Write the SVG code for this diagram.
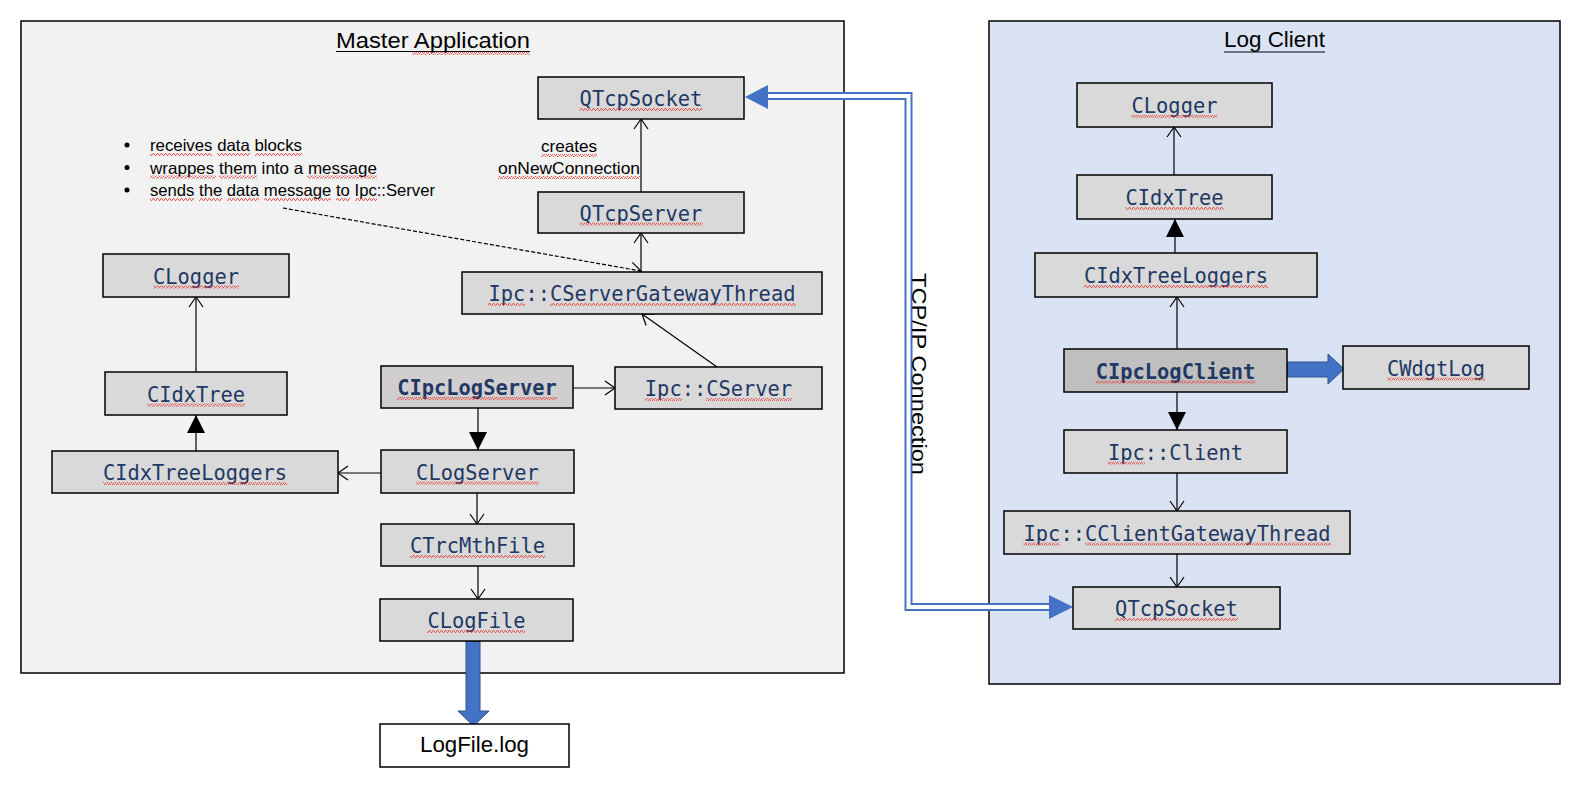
<svg xmlns="http://www.w3.org/2000/svg" width="1583" height="788" viewBox="0 0 1583 788">
<style>
.frame{stroke:#000;stroke-width:1.5}
.box{fill:#D9D9D9;stroke:#000;stroke-width:1.5}
.lbl{font-family:"DejaVu Sans Mono","Liberation Mono",monospace;font-size:20.4px;fill:#1F3864;text-anchor:middle}
.b{font-weight:bold}
.txt{font-family:"Liberation Sans",Arial,sans-serif;fill:#000}
.ln{stroke:#000;stroke-width:1.2;fill:none}
.sq{fill:url(#sq);stroke:none}
.blk{fill:#4472C4;stroke:#2F528F;stroke-width:1}
.tcpo{fill:none;stroke:#4472C4;stroke-width:8}
.tcpi{fill:none;stroke:#fff;stroke-width:4}
</style>
<defs>
<pattern id="sq" width="4" height="3" patternUnits="userSpaceOnUse">
<path d="M0,2.5 L1,0.5 L2,0.5 L3,2.5 L4,2.5" fill="none" stroke="#E53935" stroke-width="0.8"/>
</pattern>
<marker id="open" markerUnits="userSpaceOnUse" markerWidth="14" markerHeight="18" viewBox="-2 -9 14 18" refX="10" refY="0" orient="auto">
<path d="M0,-7 L10,0 L0,7" fill="none" stroke="#000" stroke-width="1.2"/>
</marker>
<marker id="tri" markerUnits="userSpaceOnUse" markerWidth="20" markerHeight="20" viewBox="0 -10 20 20" refX="18" refY="0" orient="auto">
<path d="M0,-9 L18,0 L0,9 Z" fill="#000"/>
</marker>
</defs>
<rect width="1583" height="788" fill="#fff"/>

<g id="master-application">
<rect class="frame" x="21" y="21" width="823" height="652" fill="#F2F2F2"/>
<text class="txt" x="336" y="48" font-size="22" textLength="194" lengthAdjust="spacingAndGlyphs">Master Application</text>
<line x1="336" y1="51.5" x2="530" y2="51.5" stroke="#000" stroke-width="1.2"/>
<rect class="sq" x="412" y="52" width="118" height="3"/>
</g>

<g id="log-client">
<rect class="frame" x="989" y="21" width="571" height="663" fill="#DAE3F3"/>
<text class="txt" x="1224" y="47" font-size="22" textLength="101" lengthAdjust="spacingAndGlyphs">Log Client</text>
<line x1="1224" y1="52" x2="1325" y2="52" stroke="#000" stroke-width="1.2"/>
</g>

<g id="note">
<circle cx="127" cy="145" r="2.5" fill="#000"/>
<circle cx="127" cy="167.5" r="2.5" fill="#000"/>
<circle cx="127" cy="190" r="2.5" fill="#000"/>
<text class="txt" x="150" y="151" font-size="16.5" textLength="152" lengthAdjust="spacingAndGlyphs">receives data blocks</text>
<text class="txt" x="150" y="173.5" font-size="16.5" textLength="227" lengthAdjust="spacingAndGlyphs">wrappes them into a message</text>
<text class="txt" x="150" y="196" font-size="16.5" textLength="285" lengthAdjust="spacingAndGlyphs">sends the data message to Ipc::Server</text>
<rect class="sq" x="150" y="153" width="62" height="3"/>
<rect class="sq" x="217" y="153" width="33" height="3"/>
<rect class="sq" x="255" y="153" width="47" height="3"/>
<rect class="sq" x="150" y="175.5" width="66" height="3"/>
<rect class="sq" x="219" y="175.5" width="38" height="3"/>
<rect class="sq" x="307" y="175.5" width="70" height="3"/>
<rect class="sq" x="150" y="198" width="44" height="3"/>
<rect class="sq" x="199" y="198" width="23" height="3"/>
<rect class="sq" x="227" y="198" width="32" height="3"/>
<rect class="sq" x="264" y="198" width="67" height="3"/>
<rect class="sq" x="336" y="198" width="14" height="3"/>
<rect class="sq" x="355" y="198" width="22" height="3"/>
</g>

<g id="label-creates">
<text class="txt" x="541" y="152" font-size="17" textLength="56" lengthAdjust="spacingAndGlyphs">creates</text>
<text class="txt" x="498" y="174" font-size="17" textLength="142" lengthAdjust="spacingAndGlyphs">onNewConnection</text>
<rect class="sq" x="541" y="154" width="56" height="3"/>
<rect class="sq" x="498" y="176" width="142" height="3"/>
</g>

<g id="connectors">
<line class="ln" x1="641" y1="192" x2="641" y2="119" marker-end="url(#open)"/>
<line class="ln" x1="641" y1="272" x2="641" y2="233" marker-end="url(#open)"/>
<line class="ln" x1="283" y1="208" x2="641" y2="271" stroke-dasharray="4 2" marker-end="url(#open)"/>
<line class="ln" x1="196" y1="372" x2="196" y2="297" marker-end="url(#open)"/>
<line class="ln" x1="196" y1="451" x2="196" y2="415" marker-end="url(#tri)"/>
<line class="ln" x1="381" y1="473" x2="338" y2="473" marker-end="url(#open)"/>
<line class="ln" x1="573" y1="388" x2="615" y2="388" marker-end="url(#open)"/>
<line class="ln" x1="717" y1="367" x2="642" y2="314" marker-end="url(#open)"/>
<line class="ln" x1="478" y1="408" x2="478" y2="450" marker-end="url(#tri)"/>
<line class="ln" x1="477" y1="493" x2="477" y2="524" marker-end="url(#open)"/>
<line class="ln" x1="478" y1="566" x2="478" y2="599" marker-end="url(#open)"/>
<line class="ln" x1="1174" y1="175" x2="1174" y2="127" marker-end="url(#open)"/>
<line class="ln" x1="1175" y1="253" x2="1175" y2="219" marker-end="url(#tri)"/>
<line class="ln" x1="1177" y1="349" x2="1177" y2="297" marker-end="url(#open)"/>
<line class="ln" x1="1177" y1="392" x2="1177" y2="430" marker-end="url(#tri)"/>
<line class="ln" x1="1177" y1="473" x2="1177" y2="511" marker-end="url(#open)"/>
<line class="ln" x1="1177" y1="554" x2="1177" y2="587" marker-end="url(#open)"/>
<polygon class="blk" points="466,641 480,641 480,711 489,711 473.5,726 458,711 466,711"/>
<polygon class="blk" points="1287,362 1328,362 1328,354 1344,369 1328,384 1328,377 1287,377"/>
<path class="tcpo" d="M768,96 H908.5 V607 H1049"/>
<path class="tcpi" d="M766,96 H908.5 V607 H1051"/>
<polygon points="745,97 768,85 768,109" fill="#4472C4"/>
<polygon points="1073,607 1049,595 1049,619" fill="#4472C4"/>
<text class="txt" transform="translate(912,273) rotate(90)" font-size="20" textLength="202" lengthAdjust="spacingAndGlyphs">TCP/IP Connection</text>
</g>

<g id="m-qtcpsocket"><rect class="box" x="538" y="77" width="206" height="42"/><text class="lbl" x="641" y="106">QTcpSocket</text><rect class="sq" x="579.5" y="108" width="123" height="3"/></g>
<g id="m-qtcpserver"><rect class="box" x="538" y="192" width="206" height="41"/><text class="lbl" x="641" y="220.5">QTcpServer</text><rect class="sq" x="579.5" y="222.5" width="123" height="3"/></g>
<g id="m-gateway"><rect class="box" x="462" y="272" width="360" height="42"/><text class="lbl" x="642" y="301">Ipc::CServerGatewayThread</text><rect class="sq" x="488" y="303" width="37" height="3"/><rect class="sq" x="550" y="303" width="246" height="3"/></g>
<g id="m-clogger"><rect class="box" x="103" y="254" width="186" height="43"/><text class="lbl" x="196" y="283.5">CLogger</text><rect class="sq" x="153" y="285.5" width="86" height="3"/></g>
<g id="m-cidxtree"><rect class="box" x="105" y="372" width="182" height="43"/><text class="lbl" x="196" y="401.5">CIdxTree</text><rect class="sq" x="147" y="403.5" width="98" height="3"/></g>
<g id="m-cidxtreeloggers"><rect class="box" x="52" y="451" width="286" height="42"/><text class="lbl" x="195" y="480">CIdxTreeLoggers</text><rect class="sq" x="103" y="482" width="184" height="3"/></g>
<g id="m-cipclogserver"><rect class="box" x="381" y="366" width="192" height="42" style="fill:#D0CECE"/><text class="lbl b" x="477" y="395">CIpcLogServer</text><rect class="sq" x="397" y="397" width="160" height="3"/></g>
<g id="m-ipccserver"><rect class="box" x="615" y="367" width="207" height="42"/><text class="lbl" x="718.5" y="396">Ipc::CServer</text><rect class="sq" x="645" y="398" width="37" height="3"/><rect class="sq" x="706" y="398" width="86" height="3"/></g>
<g id="m-clogserver"><rect class="box" x="381" y="450" width="193" height="43"/><text class="lbl" x="477.5" y="479.5">CLogServer</text><rect class="sq" x="416" y="481.5" width="123" height="3"/></g>
<g id="m-ctrcmthfile"><rect class="box" x="381" y="524" width="193" height="42"/><text class="lbl" x="477.5" y="553">CTrcMthFile</text><rect class="sq" x="410" y="555" width="135" height="3"/></g>
<g id="m-clogfile"><rect class="box" x="380" y="599" width="193" height="42"/><text class="lbl" x="476.5" y="628">CLogFile</text><rect class="sq" x="427" y="630" width="98" height="3"/></g>
<g id="logfile-log"><rect x="380" y="724" width="189" height="43" fill="#fff" stroke="#000" stroke-width="1.5"/><text class="txt" x="420" y="752" font-size="22" textLength="109" lengthAdjust="spacingAndGlyphs">LogFile.log</text></g>

<g id="c-clogger"><rect class="box" x="1077" y="83" width="195" height="44"/><text class="lbl" x="1174.5" y="113">CLogger</text><rect class="sq" x="1131.5" y="115" width="86" height="3"/></g>
<g id="c-cidxtree"><rect class="box" x="1077" y="175" width="195" height="44"/><text class="lbl" x="1174.5" y="205">CIdxTree</text><rect class="sq" x="1125.5" y="207" width="98" height="3"/></g>
<g id="c-cidxtreeloggers"><rect class="box" x="1035" y="253" width="282" height="44"/><text class="lbl" x="1176" y="283">CIdxTreeLoggers</text><rect class="sq" x="1084" y="285" width="184" height="3"/></g>
<g id="c-cipclogclient"><rect class="box" x="1064" y="349" width="223" height="43" style="fill:#BFBFBF"/><text class="lbl b" x="1175.5" y="378.5">CIpcLogClient</text><rect class="sq" x="1095.5" y="380.5" width="160" height="3"/></g>
<g id="c-cwdgtlog"><rect class="box" x="1343" y="346" width="186" height="43"/><text class="lbl" x="1436" y="375.5">CWdgtLog</text><rect class="sq" x="1387" y="377.5" width="98" height="3"/></g>
<g id="c-ipcclient"><rect class="box" x="1064" y="430" width="223" height="43"/><text class="lbl" x="1175.5" y="459.5">Ipc::Client</text><rect class="sq" x="1108" y="461.5" width="37" height="3"/></g>
<g id="c-gateway"><rect class="box" x="1004" y="511" width="346" height="43"/><text class="lbl" x="1177" y="540.5">Ipc::CClientGatewayThread</text><rect class="sq" x="1023" y="542.5" width="37" height="3"/><rect class="sq" x="1085" y="542.5" width="246" height="3"/></g>
<g id="c-qtcpsocket"><rect class="box" x="1073" y="587" width="207" height="42"/><text class="lbl" x="1176.5" y="616">QTcpSocket</text><rect class="sq" x="1115" y="618" width="123" height="3"/></g>
</svg>
